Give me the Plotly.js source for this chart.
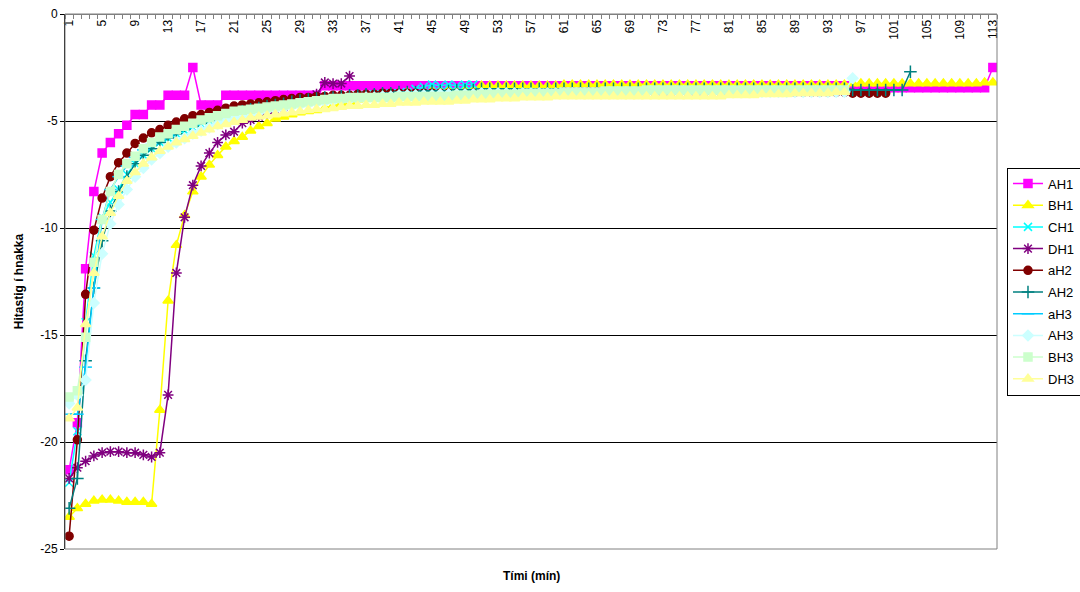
<!DOCTYPE html>
<html><head><meta charset="utf-8">
<script src="https://cdn.plot.ly/plotly-3.0.1.min.js"></script>
<style>html,body{margin:0;padding:0;background:#fff}#chart{width:1080px;height:592px}</style>
</head><body><div id="chart"></div>
<script>
// Tick labels of the category axis (Tími, mín)
const xTickVals = [1,5,9,13,17,21,25,29,33,37,41,45,49,53,57,61,65,69,73,77,81,85,89,93,97,101,105,109,113];
const xTickText = ['1','5','9','13','17','21','25','29','33','37','41','45','49','53','57','61','65','69','73','77','81','85','89','93','97','101','105','109','113'];
const yTickVals = [0,-5,-10,-15,-20,-25];
const yTickText = ['0','-5','-10','-15','-20','-25'];

const AH1 = [-21.3,-19.1,-11.9,-8.3,-6.5,-6.0,-5.6,-5.2,-4.7,-4.7,
 -4.25,-4.25,-3.8,-3.8,-3.8,-2.5,-4.25,-4.25,-4.25,-3.8,
 -3.8,-3.8,-3.8,-3.8,-3.8,-3.8,-3.8,-3.8,-3.8,-3.8,
 -3.8,-3.35,-3.35,-3.35,-3.35,-3.35,-3.35,-3.35,-3.35,-3.35,
 -3.35,-3.35,-3.35,-3.35,-3.35,-3.35,-3.35,-3.35,-3.35,-3.35,
 -3.35,-3.35,-3.35,-3.35,-3.35,-3.35,-3.35,-3.35,-3.35,-3.35,
 -3.35,-3.35,-3.35,-3.35,-3.35,-3.35,-3.35,-3.35,-3.35,-3.35,
 -3.35,-3.35,-3.35,-3.35,-3.35,-3.35,-3.35,-3.35,-3.35,-3.35,
 -3.35,-3.35,-3.35,-3.35,-3.35,-3.35,-3.35,-3.35,-3.35,-3.35,
 -3.35,-3.35,-3.35,-3.35,-3.35,-3.45,-3.45,-3.45,-3.45,-3.45,
 -3.45,-3.45,-3.45,-3.45,-3.45,-3.45,-3.45,-3.45,-3.45,-3.45,
 -3.45,-3.45,-2.5];
const BH1 = [-23.5,-23.1,-22.9,-22.75,-22.7,-22.7,-22.75,-22.8,-22.8,-22.8,
 -22.9,-18.5,-13.4,-10.8,-9.4,-8.3,-7.6,-7.05,-6.6,-6.2,
 -5.95,-5.75,-5.45,-5.25,-5.1,-4.9,-4.8,-4.7,-4.6,-4.55,
 -4.5,-4.4,-4.3,-4.2,-4.1,-4.0,-3.95,-3.85,-3.8,-3.7,
 -3.7,-3.65,-3.65,-3.6,-3.6,-3.6,-3.55,-3.55,-3.5,-3.5,
 -3.35,-3.35,-3.35,-3.35,-3.35,-3.35,-3.35,-3.35,-3.35,-3.35,
 -3.3,-3.3,-3.3,-3.3,-3.3,-3.3,-3.3,-3.3,-3.3,-3.3,
 -3.3,-3.3,-3.3,-3.3,-3.3,-3.3,-3.3,-3.3,-3.3,-3.3,
 -3.3,-3.3,-3.3,-3.3,-3.3,-3.3,-3.3,-3.3,-3.3,-3.3,
 -3.3,-3.3,-3.3,-3.3,-3.3,-3.25,-3.25,-3.25,-3.25,-3.25,
 -3.25,-3.25,-3.25,-3.25,-3.25,-3.25,-3.25,-3.25,-3.25,-3.25,
 -3.25,-3.2,-3.2];
const CH1 = [-21.9,-19.5,-14.4,-11.3,-9.5,-8.8,-8.2,-7.5,-7.0,-6.6,
 -6.3,-6.0,-5.8,-5.6,-5.45,-5.3,-5.15,-5.0,-4.9,-4.8,
 -4.7,-4.6,-4.5,-4.45,-4.4,-4.3,-4.25,-4.2,-4.1,-4.05,
 -4.0,-3.95,-3.9,-3.9,-3.85,-3.8,-3.8,-3.75,-3.75,-3.7,
 -3.7,-3.65,-3.5,-3.4,-3.3,-3.35,-3.3,-3.35,-3.3,-3.3];
const DH1 = [-21.7,-21.2,-20.9,-20.65,-20.5,-20.45,-20.45,-20.5,-20.5,-20.6,
 -20.7,-20.5,-17.8,-12.1,-9.5,-8.0,-7.1,-6.5,-6.0,-5.65,
 -5.5,-5.1,-4.95,-4.8,-4.65,-4.5,-4.35,-4.2,-4.1,-3.95,
 -3.75,-3.2,-3.25,-3.25,-2.9];
const aH2 = [-24.4,-19.9,-13.1,-10.1,-8.6,-7.6,-6.95,-6.5,-6.05,-5.8,
 -5.55,-5.4,-5.2,-5.05,-4.9,-4.75,-4.7,-4.6,-4.5,-4.4,
 -4.3,-4.25,-4.2,-4.15,-4.1,-4.05,-4.0,-3.95,-3.9,-3.9,
 -3.85,-3.85,-3.8,-3.8,-3.8,-3.75,-3.75,-3.75,-3.7,-3.7,
 -3.7,-3.7,-3.7,-3.7,-3.7,-3.7,-3.7,-3.7,-3.7,-3.7,
 -3.7,-3.7,-3.7,-3.7,-3.7,-3.7,-3.7,-3.7,-3.7,-3.7,
 -3.65,-3.65,-3.65,-3.65,-3.65,-3.65,-3.65,-3.65,-3.65,-3.65,
 -3.65,-3.65,-3.65,-3.65,-3.65,-3.65,-3.65,-3.65,-3.65,-3.65,
 -3.65,-3.65,-3.65,-3.65,-3.65,-3.65,-3.65,-3.65,-3.65,-3.65,
 -3.65,-3.65,-3.65,-3.65,-3.65,-3.7,-3.7,-3.7,-3.7,-3.7];
const AH2 = [-23.1,-21.7,-16.2,-12.8,-10.6,-9.2,-8.3,-7.6,-7.0,-6.6,
 -6.3,-6.0,-5.8,-5.6,-5.4,-5.25,-5.1,-5.0,-4.85,-4.75,
 -4.65,-4.55,-4.45,-4.4,-4.3,-4.25,-4.2,-4.1,-4.05,-4.0,
 -3.95,-3.9,-3.9,-3.85,-3.8,-3.8,-3.75,-3.75,-3.7,-3.7,
 -3.65,-3.65,-3.65,-3.6,-3.6,-3.6,-3.6,-3.55,-3.55,-3.55,
 -3.5,-3.5,-3.5,-3.5,-3.5,-3.5,-3.5,-3.5,-3.5,-3.5,
 -3.5,-3.5,-3.5,-3.5,-3.5,-3.5,-3.5,-3.5,-3.5,-3.5,
 -3.5,-3.5,-3.5,-3.5,-3.5,-3.5,-3.5,-3.5,-3.5,-3.5,
 -3.5,-3.5,-3.5,-3.5,-3.5,-3.5,-3.5,-3.5,-3.5,-3.5,
 -3.5,-3.5,-3.5,-3.5,-3.5,-3.55,-3.55,-3.55,-3.55,-3.55,
 -3.55,-3.55,-2.7];
const aH3 = [-18.7,-18.7,-16.5,-12.8,-9.6,-8.2,-7.6,-7.1,-6.7,-6.35,
 -6.1,-5.85,-5.65,-5.45,-5.3,-5.15,-5.0,-4.9,-4.8,-4.7,
 -4.6,-4.5,-4.45,-4.35,-4.3,-4.25,-4.2,-4.1,-4.05,-4.0,
 -3.95,-3.95,-3.9,-3.9,-3.85,-3.85,-3.8,-3.8,-3.8,-3.8,
 -3.75,-3.75,-3.75,-3.75,-3.75,-3.7,-3.7,-3.7,-3.7,-3.7,
 -3.7,-3.7,-3.7,-3.7,-3.7,-3.7,-3.7,-3.7,-3.7,-3.7,
 -3.65,-3.65,-3.65,-3.65,-3.65,-3.65,-3.65,-3.65,-3.65,-3.65,
 -3.6,-3.6,-3.6,-3.6,-3.6,-3.6,-3.6,-3.6,-3.6,-3.6,
 -3.6,-3.6,-3.6,-3.6,-3.6,-3.6,-3.6,-3.6,-3.6,-3.6,
 -3.6,-3.6,-3.6,-3.6,-3.6];
const AH3 = [-18.2,-17.8,-17.1,-13.5,-11.2,-9.8,-8.9,-8.2,-7.6,-7.2,
 -6.8,-6.5,-6.2,-6.0,-5.8,-5.6,-5.45,-5.3,-5.15,-5.0,
 -4.9,-4.8,-4.7,-4.6,-4.5,-4.45,-4.4,-4.3,-4.25,-4.2,
 -4.15,-4.1,-4.05,-4.0,-4.0,-3.95,-3.9,-3.9,-3.85,-3.85,
 -3.8,-3.8,-3.8,-3.8,-3.8,-3.75,-3.75,-3.75,-3.75,-3.75,
 -3.7,-3.7,-3.7,-3.7,-3.7,-3.7,-3.7,-3.7,-3.7,-3.7,
 -3.7,-3.7,-3.7,-3.7,-3.7,-3.7,-3.7,-3.7,-3.7,-3.7,
 -3.65,-3.65,-3.65,-3.65,-3.65,-3.65,-3.65,-3.65,-3.65,-3.65,
 -3.65,-3.65,-3.65,-3.65,-3.65,-3.65,-3.65,-3.65,-3.65,-3.65,
 -3.65,-3.65,-3.65,-3.65,-3.65,-3.0];
const BH3 = [-17.9,-17.6,-15.1,-11.6,-9.6,-8.3,-7.5,-7.0,-6.65,-6.3,
 -6.0,-5.75,-5.6,-5.4,-5.25,-5.1,-4.95,-4.85,-4.75,-4.65,
 -4.55,-4.5,-4.45,-4.4,-4.35,-4.3,-4.25,-4.2,-4.15,-4.1,
 -4.05,-4.0,-3.95,-3.95,-3.9,-3.9,-3.9,-3.9,-3.9,-3.9,
 -3.85,-3.85,-3.85,-3.85,-3.85,-3.85,-3.85,-3.8,-3.8,-3.8,
 -3.75,-3.75,-3.75,-3.75,-3.75,-3.7,-3.7,-3.7,-3.7,-3.7,
 -3.65,-3.65,-3.65,-3.65,-3.65,-3.6,-3.6,-3.6,-3.6,-3.6,
 -3.55,-3.55,-3.55,-3.55,-3.55,-3.55,-3.55,-3.55,-3.55,-3.55,
 -3.55,-3.55,-3.55,-3.55,-3.55,-3.55,-3.55,-3.55,-3.55,-3.55,
 -3.55,-3.55,-3.55,-3.55,-3.55];
const DH3 = [-18.9,-18.4,-14.5,-12.1,-10.4,-9.3,-8.5,-7.8,-7.4,-7.0,
 -6.7,-6.4,-6.2,-6.0,-5.85,-5.7,-5.55,-5.4,-5.25,-5.15,
 -5.05,-4.95,-4.85,-4.8,-4.75,-4.7,-4.65,-4.6,-4.55,-4.5,
 -4.45,-4.45,-4.4,-4.35,-4.3,-4.3,-4.25,-4.25,-4.2,-4.2,
 -4.15,-4.15,-4.15,-4.1,-4.1,-4.1,-4.1,-4.05,-4.05,-4.0,
 -4.0,-4.0,-3.95,-3.95,-3.95,-3.9,-3.9,-3.9,-3.9,-3.85,
 -3.85,-3.85,-3.85,-3.85,-3.85,-3.85,-3.85,-3.85,-3.85,-3.85,
 -3.85,-3.85,-3.85,-3.85,-3.85,-3.85,-3.85,-3.85,-3.85,-3.85,
 -3.8,-3.8,-3.8,-3.8,-3.75,-3.75,-3.75,-3.75,-3.7,-3.7,
 -3.7,-3.7,-3.7,-3.65,-3.65];

const seriesNames = ['AH1','BH1','CH1','DH1','aH2','AH2','aH3','AH3','BH3','DH3'];
const seriesData = [AH1,BH1,CH1,DH1,aH2,AH2,aH3,AH3,BH3,DH3];
const seriesColors = ['#FF00FF','#FFFF00','#00FFFF','#800080','#800000','#008080','#00CCFF','#CCFFFF','#CCFFCC','#FFFF99'];
const seriesSymbols = ['square','triangle-up','x-thin-open','asterisk-open','circle','cross-thin-open','line-ew-open','diamond','square','triangle-up'];
const seriesSizes = [8,9,8,9,8,9,9,8,8,9];

const FONT = 'Liberation Sans, Arial, sans-serif';

const traces = seriesData.map((vals, k) => ({
  type: 'scatter',
  mode: 'lines+markers',
  name: seriesNames[k],
  legendgroup: seriesNames[k],
  x: vals.map((v, i) => i + 1),
  y: vals,
  line: {color: seriesColors[k], width: 1.5},
  marker: {
    symbol: seriesSymbols[k],
    size: seriesSizes[k],
    color: seriesColors[k],
    line: {color: seriesColors[k], width: 1.5}
  },
  hoverinfo: 'skip'
}));

const layout = {
  width: 1080, height: 592,
  margin: {l: 65, r: 83, t: 14, b: 43},
  paper_bgcolor: '#fff', plot_bgcolor: '#fff',
  font: {family: FONT, size: 12, color: '#000'},
  showlegend: true,
  legend: {
    xref: 'container', yref: 'container',
    x: 0.9324, xanchor: 'left', y: 0.717, yanchor: 'top',
    bordercolor: '#000', borderwidth: 1, bgcolor: '#fff',
    font: {family: FONT, size: 13, color: '#000'},
    itemwidth: 30, tracegroupgap: 1.8
  },
  xaxis: {
    range: [0.5, 113.5], anchor: 'free', position: 1, side: 'bottom',
    tickmode: 'array', tickvals: xTickVals, ticktext: xTickText,
    tickangle: -90, ticks: '', showgrid: false, zeroline: false,
    showline: true, linecolor: '#808080', linewidth: 1,
    minor: {tick0: 0.5, dtick: 1, ticks: 'outside', ticklen: 4, tickcolor: '#808080', showgrid: false},
    tickfont: {family: FONT, size: 12, color: '#000'},
    automargin: false, fixedrange: true
  },
  yaxis: {
    range: [-25, 0], tickmode: 'array', tickvals: yTickVals, ticktext: yTickText,
    ticks: 'outside', ticklen: 4, tickcolor: '#000',
    showgrid: true, gridcolor: '#000', gridwidth: 1, zeroline: false,
    showline: true, linecolor: '#000', linewidth: 1,
    tickfont: {family: FONT, size: 12, color: '#000'},
    title: {text: 'Hitastig í hnakka', font: {family: FONT, size: 12, color: '#000', weight: 'bold'}, standoff: 14},
    automargin: false, fixedrange: true
  },
  shapes: [{type: 'rect', xref: 'paper', yref: 'paper', x0: 0, x1: 1, y0: 0, y1: 1,
            line: {color: '#808080', width: 1}, layer: 'above'}],
  annotations: [{text: '<b>Tími (mín)</b>', xref: 'paper', yref: 'paper', x: 0.5, y: -0.05,
                 xanchor: 'center', yanchor: 'middle', showarrow: false,
                 font: {family: FONT, size: 12, color: '#000'}}]
};

Plotly.newPlot('chart', traces, layout, {displayModeBar: false, staticPlot: true});
</script></body></html>
